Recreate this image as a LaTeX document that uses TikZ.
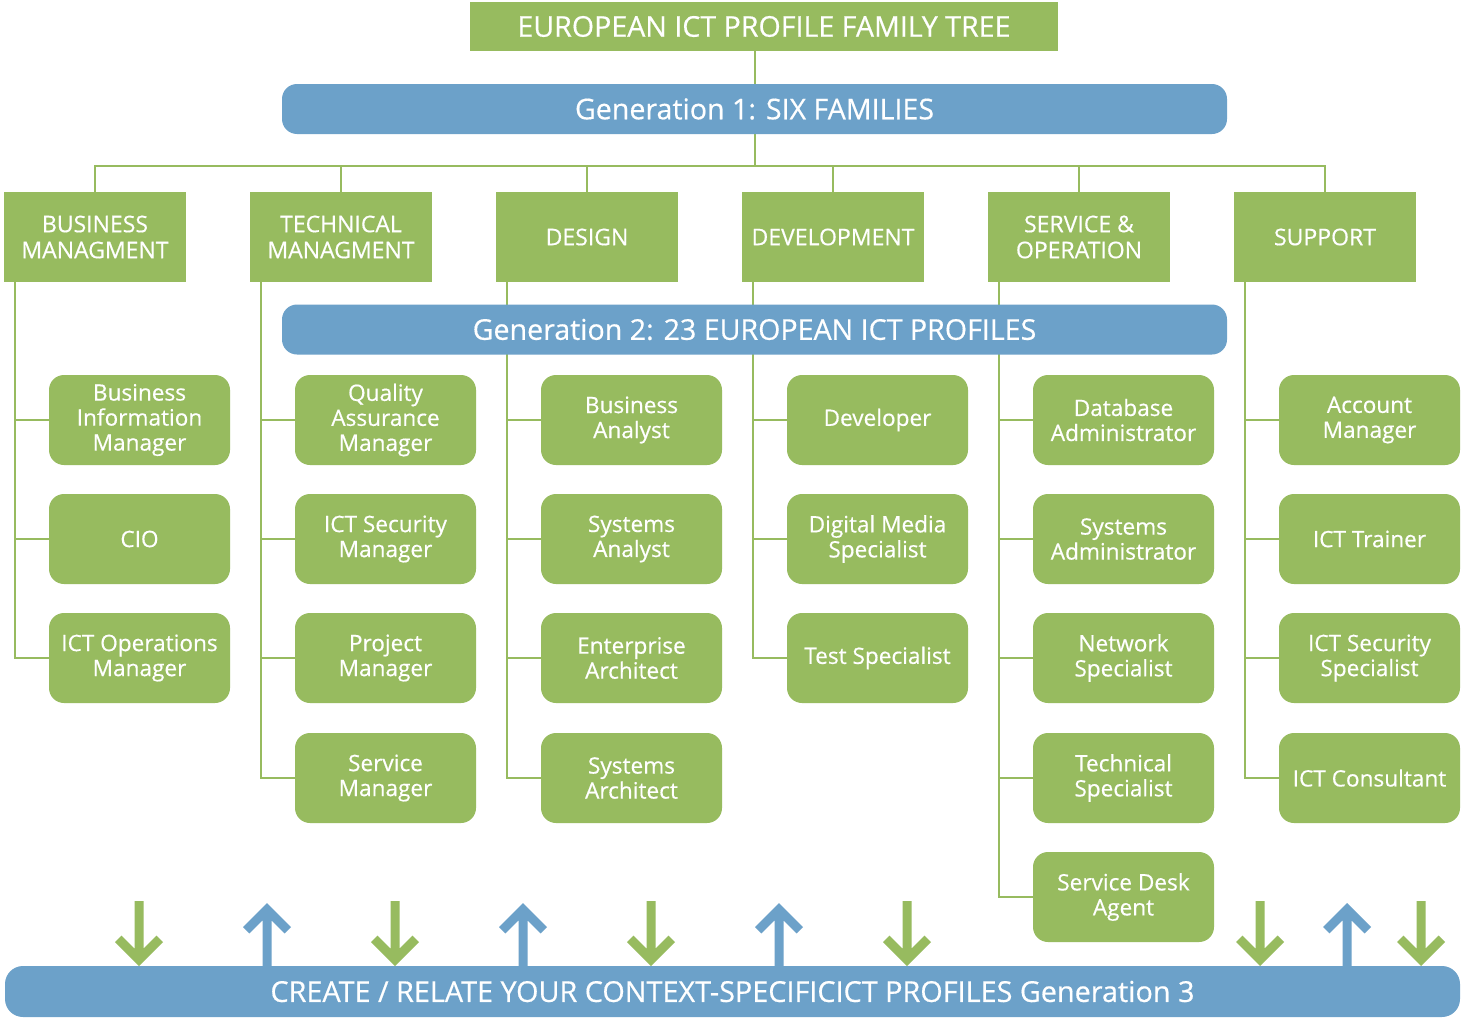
\documentclass[tikz,border=0pt]{standalone}
\usepackage{fontspec}
\setmainfont{Open Sans}[FakeBold=0.5]
\usetikzlibrary{backgrounds}
\definecolor{famgreen}{HTML}{97BB5F}
\definecolor{genblue}{HTML}{6CA1C9}
\begin{document}
\begin{tikzpicture}[x=0.5pt,y=-0.5pt,
  famline/.style={draw=famgreen,line width=1pt},
  titlebox/.style={fill=famgreen,text=white,minimum width=294pt,minimum height=24.5pt,inner sep=0pt,font=\fontsize{14.3}{16}\selectfont},
  genbar/.style={fill=genblue,text=white,rounded corners=7.5pt,minimum width=472.5pt,minimum height=25pt,inner sep=0pt,font=\fontsize{14.3}{16}\selectfont},
  familybox/.style={fill=famgreen,text=white,minimum width=91pt,minimum height=45pt,inner sep=0pt,align=center,font=\fontsize{11.5}{13}\selectfont},
  profilebox/.style={fill=famgreen,text=white,rounded corners=7.5pt,minimum width=90.5pt,minimum height=45pt,inner sep=0pt,align=center,font=\fontsize{11.3}{12.5}\selectfont},
  downarrow/.style={fill=famgreen},
  uparrow/.style={fill=genblue}]

\path[use as bounding box] (0,0) rectangle (1461,1017);

% headings
\node[titlebox] (title) at (764,26.5) {EUROPEAN ICT PROFILE FAMILY TREE};
\node[genbar] (gen1) at (754.5,109) {Generation 1: SIX FAMILIES};
\node[genbar] (gen2) at (754.5,329.5) {Generation 2: 23 EUROPEAN ICT PROFILES};

% six families
\node[familybox] (f1) at (95,237) {BUSINESS\\MANAGMENT};
\node[familybox] (f2) at (341,237) {TECHNICAL\\MANAGMENT};
\node[familybox] (f3) at (587,237) {DESIGN};
\node[familybox] (f4) at (833,237) {DEVELOPMENT};
\node[familybox] (f5) at (1079,237) {SERVICE \&\\OPERATION};
\node[familybox] (f6) at (1325,237) {SUPPORT};

% profiles, one column per family
\node[profilebox] (p1a) at (139.5,420) {Business\\Information\\Manager};
\node[profilebox] (p1b) at (139.5,539) {CIO};
\node[profilebox] (p1c) at (139.5,658) {ICT Operations\\Manager};

\node[profilebox] (p2a) at (385.5,420) {Quality\\Assurance\\Manager};
\node[profilebox] (p2b) at (385.5,539) {ICT Security\\Manager};
\node[profilebox] (p2c) at (385.5,658) {Project\\Manager};
\node[profilebox] (p2d) at (385.5,778) {Service\\Manager};

\node[profilebox] (p3a) at (631.5,420) {Business\\Analyst};
\node[profilebox] (p3b) at (631.5,539) {Systems\\Analyst};
\node[profilebox] (p3c) at (631.5,658) {Enterprise\\Architect};
\node[profilebox] (p3d) at (631.5,778) {Systems\\Architect};

\node[profilebox] (p4a) at (877.5,420) {Developer};
\node[profilebox] (p4b) at (877.5,539) {Digital Media\\Specialist};
\node[profilebox] (p4c) at (877.5,658) {Test Specialist};

\node[profilebox] (p5a) at (1123.5,420) {Database\\Administrator};
\node[profilebox] (p5b) at (1123.5,539) {Systems\\Administrator};
\node[profilebox] (p5c) at (1123.5,658) {Network\\Specialist};
\node[profilebox] (p5d) at (1123.5,778) {Technical\\Specialist};
\node[profilebox] (p5e) at (1123.5,897) {Service Desk\\Agent};

\node[profilebox] (p6a) at (1369.5,420) {Account\\Manager};
\node[profilebox] (p6b) at (1369.5,539) {ICT Trainer};
\node[profilebox] (p6c) at (1369.5,658) {ICT Security\\Specialist};
\node[profilebox] (p6d) at (1369.5,778) {ICT Consultant};

% generation 3 bar
\node[fill=genblue,text=white,rounded corners=9pt,minimum width=727.5pt,minimum height=25.5pt,inner sep=0pt,font=\fontsize{14.4}{16}\selectfont]
  (gen3) at (732.5,991.5) {CREATE / RELATE YOUR CONTEXT-SPECIFICICT PROFILES Generation 3};

% tree connectors behind the boxes
\begin{scope}[on background layer]
  \fill[white] (0,0) rectangle (1461,1017);
  \draw[famline] (title.south -| gen1.north) -- (gen1.north);
  \coordinate (hbar) at (754.5,166);
  \foreach \f in {f1,f2,f3,f4,f5,f6}
    \draw[famline] (gen1.south) -- (hbar) -| (\f.north);
  \foreach \f/\p in {f1/p1a,f1/p1b,f1/p1c,
                     f2/p2a,f2/p2b,f2/p2c,f2/p2d,
                     f3/p3a,f3/p3b,f3/p3c,f3/p3d,
                     f4/p4a,f4/p4b,f4/p4c,
                     f5/p5a,f5/p5b,f5/p5c,f5/p5d,f5/p5e,
                     f6/p6a,f6/p6b,f6/p6c,f6/p6d}
    \draw[famline] ([xshift=5.5pt]\f.south west) |- (\p.west);
\end{scope}

% arrows into and out of generation 3
\foreach \c in {139,395,651,907,1260,1421}
  \fill[downarrow] ({\c-4.5},901) -- ({\c+4.5},901) -- ({\c+4.5},948.7) -- ({\c+17.6},935.6)
    -- ({\c+24},942) -- (\c,966) -- ({\c-24},942) -- ({\c-17.6},935.6) -- ({\c-4.5},948.7) -- cycle;
\foreach \c in {267,523,779,1347}
  \fill[uparrow] ({\c-4.5},968) -- ({\c+4.5},968) -- ({\c+4.5},920.3) -- ({\c+17.6},933.4)
    -- ({\c+24},927) -- (\c,903) -- ({\c-24},927) -- ({\c-17.6},933.4) -- ({\c-4.5},920.3) -- cycle;

\end{tikzpicture}
\end{document}
